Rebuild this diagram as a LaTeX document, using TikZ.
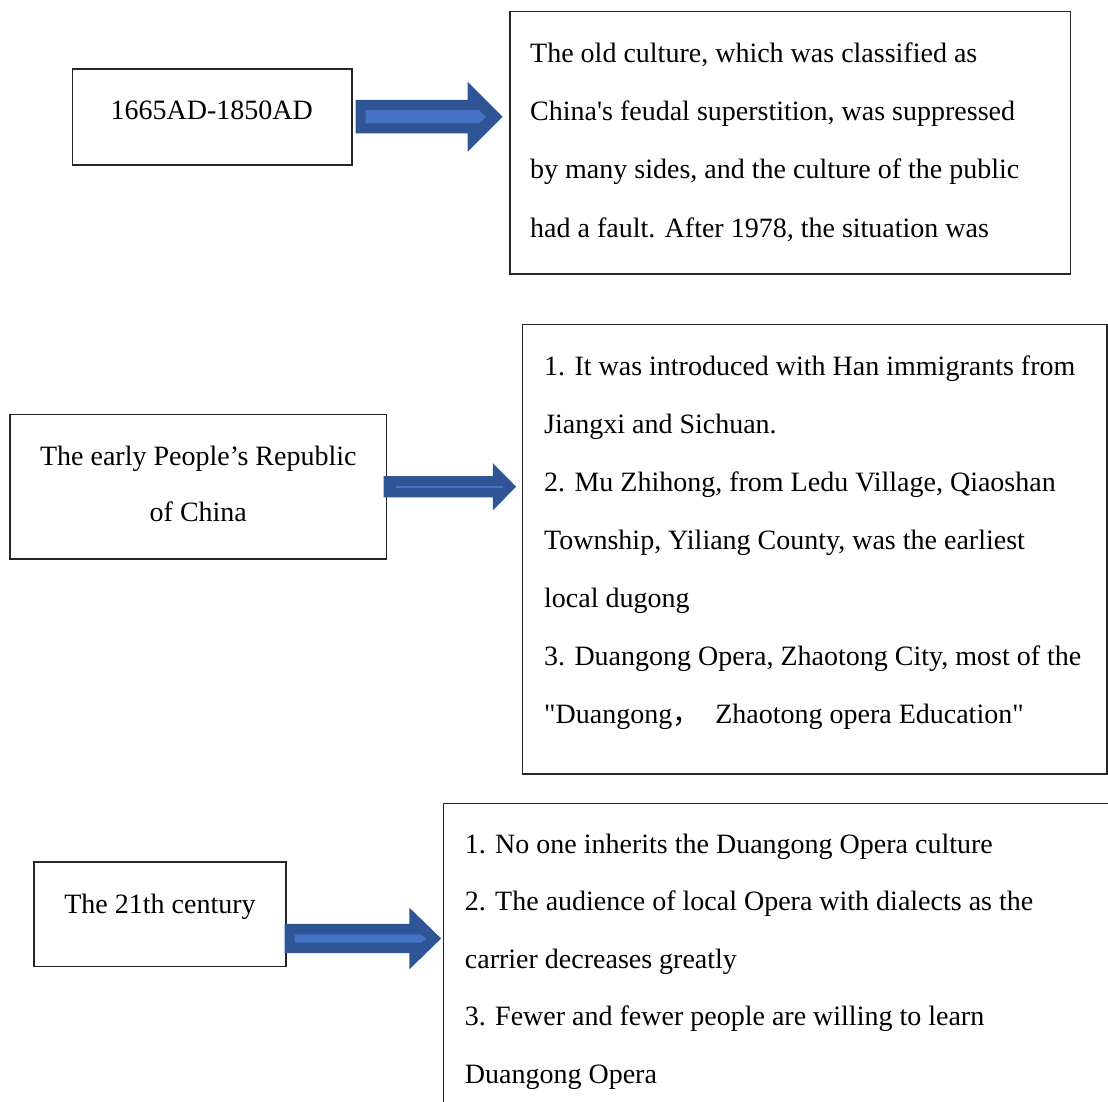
\documentclass[tikz,border=0pt]{standalone}
\usepackage{fontspec}
\setmainfont{Liberation Serif}[Ligatures=TeXOff]
\newfontfamily\cjk{Noto Sans CJK SC}
\usetikzlibrary{calc}
\definecolor{arrdark}{HTML}{2F5597}
\definecolor{arrlight}{HTML}{4472C4}
\newcommand\blockarrow[6]{\fill[#6] let \p1=(#1), \p2=(#2) in (\x1,\y1+#3) -- (\x2-#5,\y1+#3) -- (\x2-#5,\y1+#4) -- (\x2,\y1) -- (\x2-#5,\y1-#4) -- (\x2-#5,\y1-#3) -- (\x1,\y1-#3) -- cycle;}
\tikzset{
  box/.style={draw=black!85, line width=1.2pt, inner sep=0pt, rectangle},
  txt/.style={inner sep=0pt, anchor=base west, font=\fontsize{28}{34}\selectfont},
  ctxt/.style={txt, anchor=base},
}
\begin{document}
\begin{tikzpicture}[x=1pt,y=-1pt]
\useasboundingbox (0,0) rectangle (1108,1102);
\fill[white] (0,0) rectangle (1108,1102);

% boxes
\node[box, minimum width=279.3pt, minimum height=96pt] (A) at (212.3,117) {};
\node[box, minimum width=560.7pt, minimum height=262.3pt] (B) at (790.3,142.8) {};
\node[box, minimum width=376.7pt, minimum height=144.7pt] (C) at (198.3,486.7) {};
\node[box, minimum width=584.7pt, minimum height=449.7pt] (D) at (814.7,549.2) {};
\node[box, minimum width=252pt, minimum height=104.7pt] (E) at (160,914.3) {};
\node[box, minimum width=686.6pt, minimum height=326.7pt] (F) at (786.7,966.7) {};

% texts
\node[ctxt] (tA) at (211.7,120) {1665AD-1850AD};

\node[txt] (tB1) at (530,63) {The old culture, which was classified as};
\node[txt] (tB2) at (530,121) {China's feudal superstition, was suppressed};
\node[txt] (tB3) at (530,179) {by many sides, and the culture of the public};
\node[txt] (tB4) at (530,237) {had a fault. After 1978, the situation was};

\node[ctxt] (tC1) at (198.3,465) {The early People’s Republic};
\node[ctxt] (tC2) at (198.3,521.7) {of China};

\node[txt] (tD1) at (544,375) {1. It was introduced with Han immigrants from};
\node[txt] (tD2) at (544,433) {Jiangxi and Sichuan.};
\node[txt] (tD3) at (544,491) {2. Mu Zhihong, from Ledu Village, Qiaoshan};
\node[txt] (tD4) at (544,549) {Township, Yiliang County, was the earliest};
\node[txt] (tD5) at (544,607) {local dugong};
\node[txt] (tD6) at (544,665) {3. Duangong Opera, Zhaotong City, most of the};
\node[txt] (tD7) at (544,723) {"Duangong{\cjk ，}\hspace{15pt}Zhaotong opera Education"};

\node[ctxt] (tE) at (160,913.3) {The 21th century};

\node[txt] (tF1) at (464.7,853.3) {1. No one inherits the Duangong Opera culture};
\node[txt] (tF2) at (464.7,910.7) {2. The audience of local Opera with dialects as the};
\node[txt] (tF3) at (464.7,968) {carrier decreases greatly};
\node[txt] (tF4) at (464.7,1025.7) {3. Fewer and fewer people are willing to learn};
\node[txt] (tF5) at (464.7,1083) {Duangong Opera};

% arrows
\coordinate (a1s) at ($(A.east)+(3,-0.3)$);
\coordinate (a1e) at ($(B.west |- a1s)+(-6.7,0)$);
\blockarrow{a1s}{a1e}{16.7pt}{35pt}{35pt}{arrdark}
\blockarrow{$(a1s)+(10,0)$}{$(a1e)+(-16.6,0)$}{6.7pt}{6.7pt}{7.4pt}{arrlight}

\coordinate (a2s) at ($(C.east)+(-3.7,0)$);
\coordinate (a2e) at ($(D.west |- a2s)+(-5.6,0)$);
\blockarrow{a2s}{a2e}{10.7pt}{23.7pt}{23.4pt}{arrdark}
\draw[arrlight, line width=1.6pt] ($(a2s)+(12,0)$) -- ($(a2e)+(-13.4,0)$);

\coordinate (a3s) at ($(E.east)+(-2,24.2)$);
\coordinate (a3e) at ($(F.west |- a3s)+(-1.7,0)$);
\blockarrow{a3s}{a3e}{14.7pt}{30.8pt}{31.7pt}{arrdark}
\blockarrow{$(a3s)+(10,0)$}{$(a3e)+(-15,0)$}{4.15pt}{4.15pt}{5pt}{arrlight}
\end{tikzpicture}
\end{document}
